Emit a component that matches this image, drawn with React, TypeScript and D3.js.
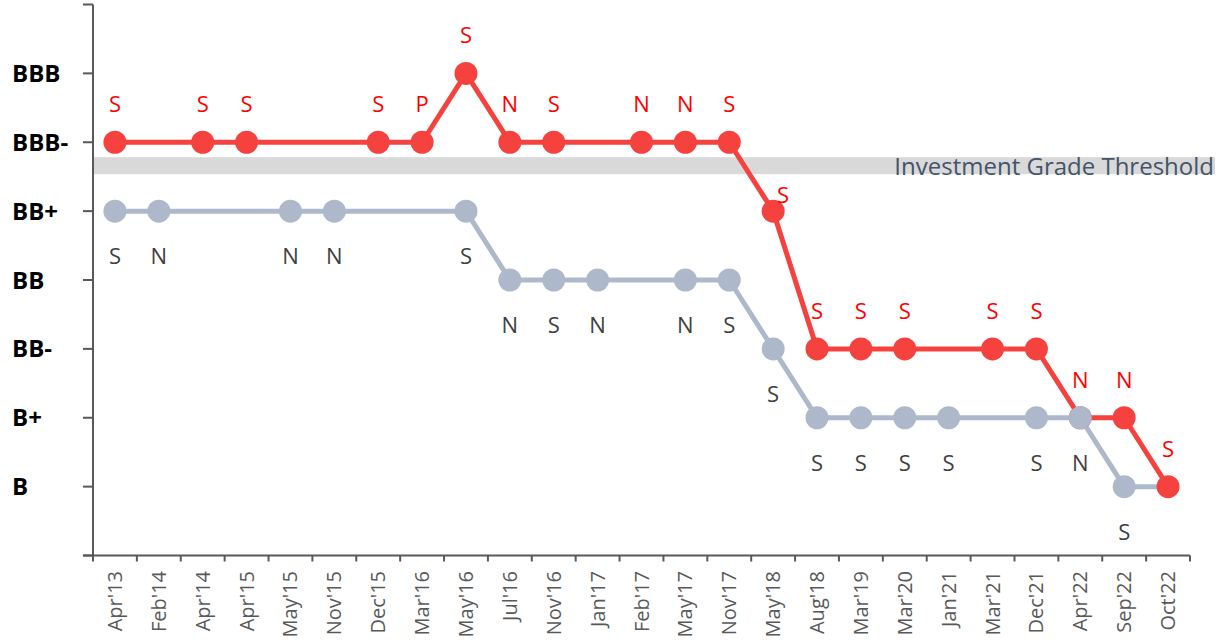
import React from "react";
import * as d3 from "d3";

const categories = ["Apr'13","Feb'14","Apr'14","Apr'15","May'15","Nov'15","Dec'15","Mar'16","May'16","Jul'16","Nov'16","Jan'17","Feb'17","May'17","Nov'17","May'18","Aug'18","Mar'19","Mar'20","Jan'21","Mar'21","Dec'21","Apr'22","Sep'22","Oct'22"];
const ratingLabels = ["B","B+","BB-","BB","BB+","BBB-","BBB"];
// rating levels: 1=B ... 7=BBB ; null = no rating action
const redValues: (number | null)[] = [6,null,6,6,null,null,6,6,7,6,6,null,6,6,6,5,3,3,3,null,3,3,2,2,1];
const redTags: string[] = ["S","","S","S","","","S","P","S","N","S","","N","N","S","S","S","S","S","","S","S","N","N","S"];
const grayValues: (number | null)[] = [5,5,null,null,5,5,null,null,5,4,4,4,null,4,4,3,2,2,2,2,null,2,2,1,1];
const grayTags: string[] = ["S","N","","","N","N","","","S","N","S","N","","N","S","S","S","S","S","S","","S","N","S",""];
const thresholdLevel = 5.66;
const thresholdText = "Investment Grade Threshold";

const W = 1219, H = 643;
const RED = "#F5423F", GRAY = "#ADB9CA";
const FONT = "'Open Sans', 'Noto Sans', sans-serif";

export default function App() {
  const x = d3.scaleBand<string>().domain(categories).range([93, 1190]);
  const y = d3.scaleLinear().domain([0, 8]).range([555.5, 4.5]);
  const cx = (c: string) => (x(c) as number) + x.bandwidth() / 2;

  const redPts = categories.map((c, i) => ({ c, v: redValues[i], t: redTags[i] })).filter(d => d.v != null) as { c: string; v: number; t: string }[];
  const grayPts = categories.map((c, i) => ({ c, v: grayValues[i], t: grayTags[i] })).filter(d => d.v != null) as { c: string; v: number; t: string }[];
  const line = d3.line<{ c: string; v: number }>().x(d => cx(d.c)).y(d => y(d.v));

  const yTicks = d3.range(0, 9);
  const xTickPos = categories.map(c => x(c) as number).concat([x.range()[1]]);
  const bandY0 = y(thresholdLevel) - 8.5;

  return (
    <svg width={W} height={H} style={{ position: "absolute", left: 0, top: 0 }} fontFamily={FONT}>
      <rect x={0} y={0} width={W} height={H} fill="#fff" />
      {/* threshold band */}
      <rect x={93} y={bandY0} width={1215 - 93} height={17} fill="#D9D9D9" />
      <text x={1214} y={bandY0 + 17.5} textAnchor="end" fontSize={24} fill="#44546A">{thresholdText}</text>

      {/* axes */}
      <line x1={93} x2={93} y1={y(8)} y2={y(0)} stroke="#595959" strokeWidth={2} />
      {yTicks.map(t => (
        <line key={t} x1={83} x2={93} y1={y(t)} y2={y(t)} stroke="#595959" strokeWidth={2} />
      ))}
      <line x1={83} x2={x.range()[1]} y1={y(0)} y2={y(0)} stroke="#595959" strokeWidth={2} />
      {xTickPos.map((p, i) => (
        <line key={i} x1={p} x2={p} y1={y(0)} y2={y(0) + 6} stroke="#595959" strokeWidth={2} />
      ))}
      {ratingLabels.map((l, i) => (
        <text key={l} x={12} y={y(i + 1) + 8.5} fontSize={24} fontWeight="bold" fill="#000">{l}</text>
      ))}
      {categories.map(c => (
        <text key={c} transform={`translate(${cx(c) + 7},${571}) rotate(-90)`} textAnchor="end" fontSize={20} fill="#595959">{c}</text>
      ))}

      {/* lines */}
      <path d={line(redPts) || ""} fill="none" stroke={RED} strokeWidth={5} strokeLinejoin="round" />
      <path d={line(grayPts) || ""} fill="none" stroke={GRAY} strokeWidth={5} strokeLinejoin="round" />
      {redPts.map(d => (
        <circle key={"r" + d.c} cx={cx(d.c)} cy={y(d.v)} r={11.5} fill={RED} />
      ))}
      {grayPts.filter(d => d.c !== "Oct'22").map(d => (
        <circle key={"g" + d.c} cx={cx(d.c)} cy={y(d.v)} r={11.5} fill={GRAY} />
      ))}
      {redPts.filter(d => d.t).map(d => {
        const special = d.c === "May'18";
        return (
          <text key={"rt" + d.c} x={cx(d.c) + (special ? 10 : 0)} y={y(d.v) - (special ? 8 : 30)} textAnchor="middle" fontSize={22} fill="#FF0000">{d.t}</text>
        );
      })}
      {grayPts.filter(d => d.t).map(d => (
        <text key={"gt" + d.c} x={cx(d.c)} y={y(d.v) + 53} textAnchor="middle" fontSize={22} fill="#404040">{d.t}</text>
      ))}
    </svg>
  );
}
